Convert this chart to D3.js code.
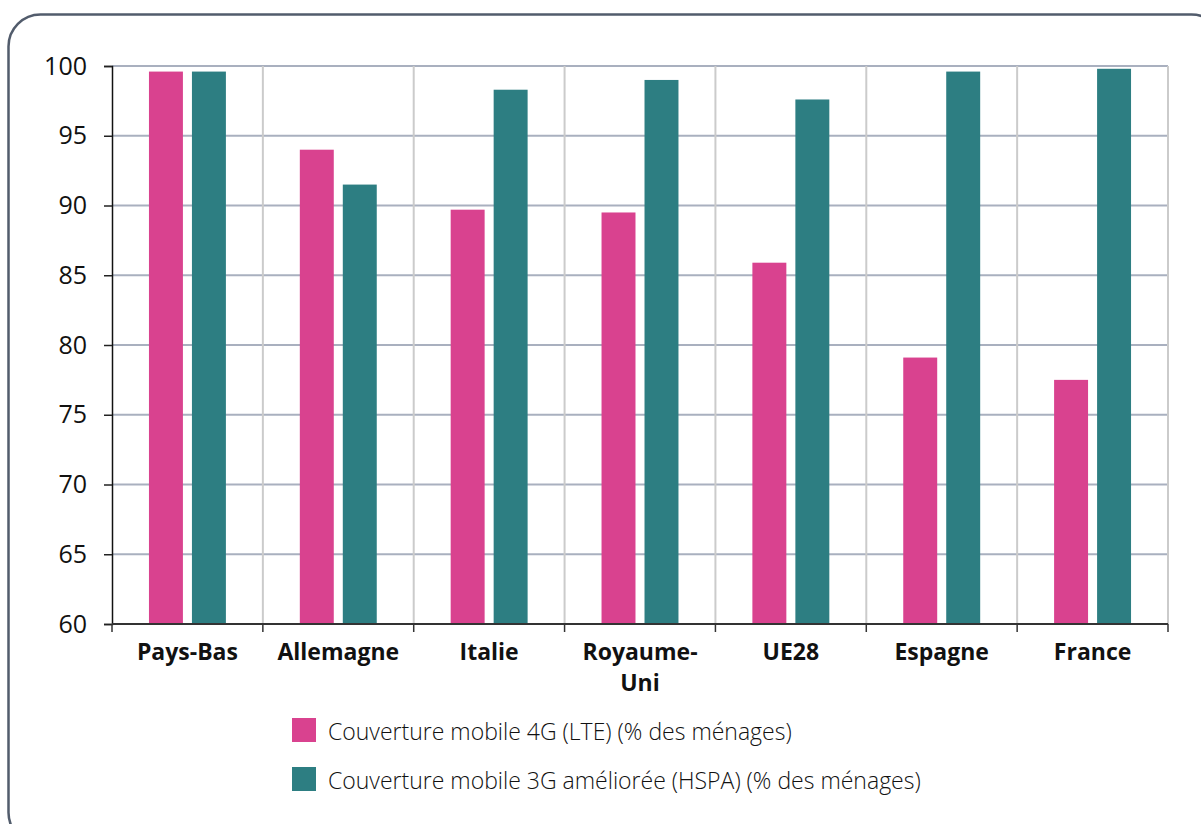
<!DOCTYPE html>
<html><head><meta charset="utf-8">
<script src="https://cdn.jsdelivr.net/npm/d3@7"></script>
<style>html,body{margin:0;padding:0;background:#fff;}svg{display:block;}</style>
</head><body>
<svg id="c" width="1201" height="824"></svg>
<script>
const categories = ["Pays-Bas","Allemagne","Italie","Royaume-Uni","UE28","Espagne","France"];
const seriesNames = ["Couverture mobile 4G (LTE) (% des ménages)","Couverture mobile 3G améliorée (HSPA) (% des ménages)"];
const lte  = [99.6, 94.0, 89.7, 89.5, 85.9, 79.1, 77.5];
const hspa = [99.6, 91.5, 98.3, 99.0, 97.6, 99.6, 99.8];
const yTicks = [60,65,70,75,80,85,90,95,100];
const colors = ["#d9428f","#2d7e82"];

const svg = d3.select("#c");
const font = "'Open Sans', sans-serif";

// frame
svg.append("rect").attr("x",8.5).attr("y",14.5).attr("width",1215).attr("height",830)
  .attr("rx",32).attr("fill","none").attr("stroke","#525c6c").attr("stroke-width",2.5);

const pL=112,pR=1168,pT=66,pB=624;
const x0 = d3.scaleBand().domain(categories).range([pL,pR]).padding(0);
const x1 = d3.scaleBand().domain([0,1]).range([x0.bandwidth()*0.245, x0.bandwidth()*0.755]).paddingInner(0.21);
const y = d3.scaleLinear().domain([60,100]).range([pB,pT]);

// horizontal grid
svg.append("g").selectAll("line").data(yTicks).join("line")
  .attr("x1",pL).attr("x2",pR).attr("y1",d=>y(d)).attr("y2",d=>y(d))
  .attr("stroke","#a9b0bf").attr("stroke-width",2);
// vertical grid
const bounds = categories.map(c=>x0(c)).concat([pR]);
svg.append("g").selectAll("line").data(bounds.slice(1)).join("line")
  .attr("x1",d=>d).attr("x2",d=>d).attr("y1",pT).attr("y2",pB)
  .attr("stroke","#cbcbcb").attr("stroke-width",2);

// bars
const data = categories.map((c,i)=>({c, v:[lte[i],hspa[i]]}));
const g = svg.append("g").selectAll("g").data(data).join("g")
  .attr("transform",d=>`translate(${x0(d.c)},0)`);
g.selectAll("rect").data(d=>d.v.map((v,k)=>({v,k}))).join("rect")
  .attr("x",d=>x1(d.k)).attr("width",x1.bandwidth())
  .attr("y",d=>y(d.v)).attr("height",d=>y(60)-y(d.v))
  .attr("fill",d=>colors[d.k]);

// y axis
const yAxis = d3.axisLeft(y).tickValues(yTicks).tickSize(8).tickPadding(17).tickFormat(d3.format("d"));
const ya = svg.append("g").attr("transform",`translate(${pL},0)`).call(yAxis);
ya.select(".domain").attr("stroke","#111").attr("stroke-width",1.5);
ya.selectAll(".tick line").attr("stroke","#222").attr("stroke-width",1.5);
ya.selectAll(".tick text").attr("font-family",font).attr("font-size",25).attr("font-weight",500).attr("fill","#111");

// x axis
const xa = svg.append("g").attr("transform",`translate(0,${pB})`);
xa.append("line").attr("x1",pL).attr("x2",pR).attr("y1",0).attr("y2",0)
  .attr("stroke","#333").attr("stroke-width",2);
xa.selectAll("line.t").data(bounds).join("line").attr("class","t")
  .attr("x1",d=>d).attr("x2",d=>d).attr("y1",0).attr("y2",8)
  .attr("stroke","#333").attr("stroke-width",1.5);
const labels = xa.selectAll("text").data(categories).join("text")
  .attr("x",d=>x0(d)+x0.bandwidth()/2).attr("y",36)
  .attr("text-anchor","middle").attr("font-family",font).attr("font-weight",700)
  .attr("font-size",23).attr("fill","#111");
labels.each(function(d){
  const t=d3.select(this);
  if(d==="Royaume-Uni"){
    t.append("tspan").attr("x",x0(d)+x0.bandwidth()/2).text("Royaume-");
    t.append("tspan").attr("x",x0(d)+x0.bandwidth()/2).attr("dy",31).text("Uni");
  } else t.text(d);
});

// legend
const lg = svg.append("g").selectAll("g").data(seriesNames).join("g")
  .attr("transform",(d,i)=>`translate(292,${718+i*49})`);
lg.append("rect").attr("width",24).attr("height",24).attr("fill",(d,i)=>colors[i]);
lg.append("text").attr("x",36).attr("y",22).attr("font-family",font).attr("font-weight",300)
  .attr("font-size",23).attr("fill","#111").text(d=>d);
</script>
</body></html>
